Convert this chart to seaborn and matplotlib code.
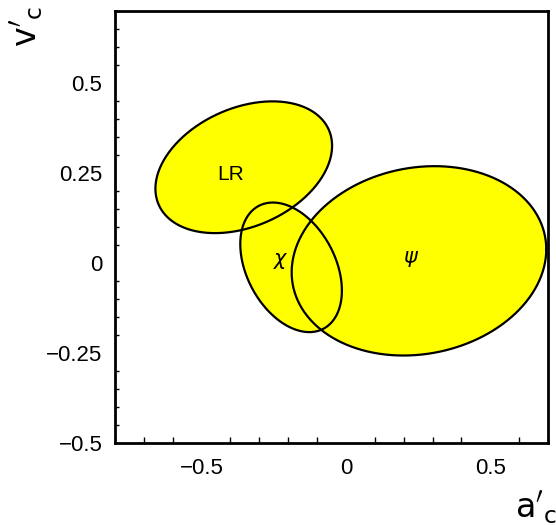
import numpy as np
import matplotlib
matplotlib.use('Agg')
import matplotlib.pyplot as plt
import seaborn as sns
from matplotlib.ticker import MultipleLocator

# contour regions: centre, half extents in x and y, phase of y w.r.t. x (deg)
labels = ['LR', r'$\chi$', r'$\psi$']
cx = [-0.354, -0.190, 0.253]
cy = [0.266, -0.012, 0.006]
rx = [0.306, 0.176, 0.441]
ry = [0.183, 0.180, 0.263]
phase = [71, 111, 83]
label_x = [-0.40, -0.225, 0.225]
label_y = [0.245, 0.005, 0.012]

xticks = [-0.5, 0, 0.5]
xticklabels = ['\u22120.5', '0', '0.5']
yticks = [-0.5, -0.25, 0, 0.25, 0.5]
yticklabels = ['\u22120.5', '\u22120.25', '0', '0.25', '0.5']

sns.set_theme(style='white')
plt.rcParams['font.family'] = ['Liberation Sans', 'DejaVu Sans']
plt.rcParams['text.color'] = 'black'
plt.rcParams['xtick.color'] = 'black'
plt.rcParams['ytick.color'] = 'black'
plt.rcParams['mathtext.fontset'] = 'dejavusans'

fig = plt.figure(figsize=(5.56, 5.25), dpi=100)
ax = fig.add_axes([115 / 556, 82 / 525, 433 / 556, 432 / 525])

t = np.linspace(0, 2 * np.pi, 400)
shapes = []
for i in range(len(labels)):
    xs = cx[i] + rx[i] * np.cos(t)
    ys = cy[i] + ry[i] * np.cos(t - np.radians(phase[i]))
    shapes.append((xs, ys))

# fills first so every outline stays visible
for xs, ys in shapes:
    ax.fill(xs, ys, color='#ffff00', lw=0, zorder=1)
for xs, ys in shapes:
    sns.lineplot(x=xs, y=ys, sort=False, estimator=None, color='black', lw=1.6, ax=ax, zorder=2)

for i in range(len(labels)):
    ax.text(label_x[i], label_y[i], labels[i], fontsize=15, ha='center', va='center', zorder=3)

ax.set_xlim(-0.8, 0.7)
ax.set_ylim(-0.5, 0.7)
ax.set_xticks(xticks)
ax.set_xticklabels(xticklabels)
ax.set_yticks(yticks)
ax.set_yticklabels(yticklabels)
ax.xaxis.set_minor_locator(MultipleLocator(0.1))
ax.yaxis.set_minor_locator(MultipleLocator(0.05))
ax.tick_params(axis='x', which='major', direction='in', length=8.5, width=1.2, labelsize=16, pad=11, top=False)
ax.tick_params(axis='x', which='minor', direction='in', length=4.3, width=1.0, bottom=True, top=False)
ax.tick_params(axis='y', which='major', direction='in', length=5.8, width=1.2, labelsize=16, pad=9, right=False)
ax.tick_params(axis='y', which='minor', direction='in', length=3.1, width=1.0, left=True, right=False)
for s in ax.spines.values():
    s.set_linewidth(2)
    s.set_color('black')
ax.set_xlabel('')
ax.set_ylabel('')

fig.text(536 / 556, 1 - 508 / 525, r"$\mathrm{a}'_\mathrm{c}$", fontsize=24, ha='center', va='center')
fig.text(27 / 556, 1 - 26 / 525, r"$\mathrm{v}'_\mathrm{c}$", fontsize=24, ha='center', va='center', rotation=90)

fig.savefig('out.png', dpi=100)
